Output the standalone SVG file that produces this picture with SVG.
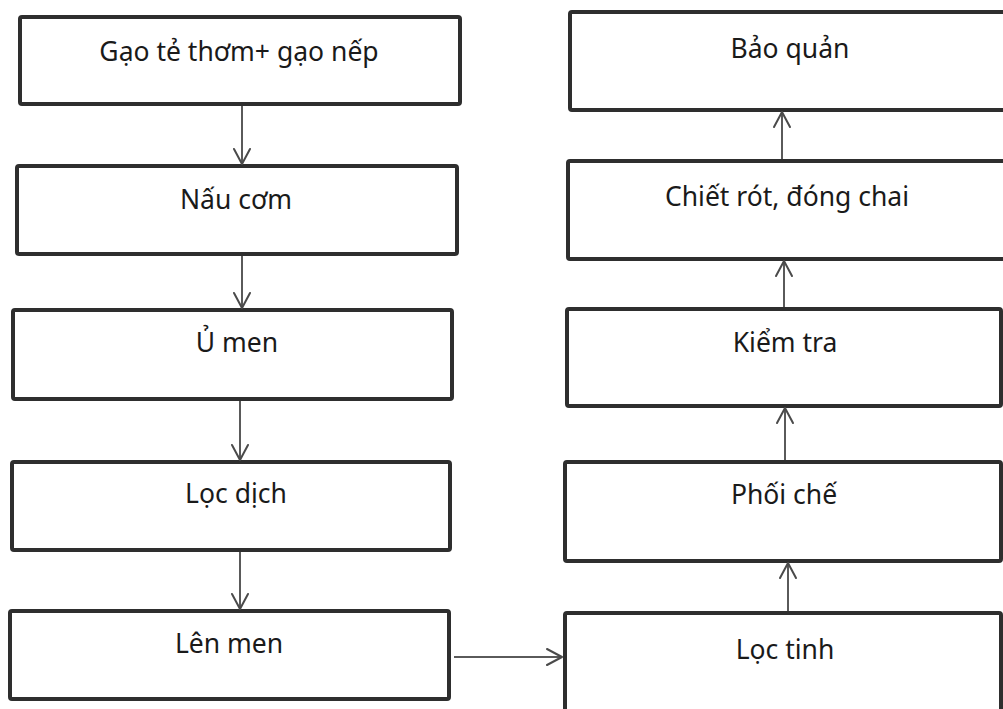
<svg xmlns="http://www.w3.org/2000/svg" width="1003" height="709" viewBox="0 0 1003 709">
  <style>
    .box { fill: #ffffff; stroke: #2e2e2e; stroke-width: 4; }
    .label { font-family: "Noto Sans", "Open Sans", "Liberation Sans", sans-serif; font-size: 26.5px; fill: #1a1a1a; text-anchor: middle; }
    .flow { stroke: #5a5a5a; stroke-width: 2; fill: none; }
    .head { stroke: #4a4a4a; stroke-width: 2; fill: none; stroke-linecap: round; stroke-linejoin: round; }
  </style>
  <rect width="1003" height="709" fill="#ffffff"/>

  <!-- left column: preparation and fermentation -->
  <g id="gao">
    <rect class="box" x="20" y="17" width="440" height="87" rx="2"/>
    <text class="label" x="239" y="61">Gạo tẻ thơm+ gạo nếp</text>
  </g>
  <g id="nau-com">
    <rect class="box" x="17" y="166" width="440" height="88" rx="2"/>
    <text class="label" x="236" y="209">Nấu cơm</text>
  </g>
  <g id="u-men">
    <rect class="box" x="13" y="310" width="439" height="89" rx="2"/>
    <text class="label" x="237" y="352">Ủ men</text>
  </g>
  <g id="loc-dich">
    <rect class="box" x="12" y="462" width="438" height="88" rx="2"/>
    <text class="label" x="236" y="503">Lọc dịch</text>
  </g>
  <g id="len-men">
    <rect class="box" x="10" y="611" width="439" height="88" rx="2"/>
    <text class="label" x="229" y="653">Lên men</text>
  </g>

  <!-- right column: finishing and storage -->
  <g id="bao-quan">
    <rect class="box" x="570" y="12" width="440" height="98" rx="2"/>
    <text class="label" x="790" y="58">Bảo quản</text>
  </g>
  <g id="chiet-rot">
    <rect class="box" x="568" y="161" width="442" height="98" rx="2"/>
    <text class="label" x="787" y="206">Chiết rót, đóng chai</text>
  </g>
  <g id="kiem-tra">
    <rect class="box" x="567" y="309" width="434" height="97" rx="2"/>
    <text class="label" x="785" y="352">Kiểm tra</text>
  </g>
  <g id="phoi-che">
    <rect class="box" x="565" y="462" width="436" height="99" rx="2"/>
    <text class="label" x="784" y="504">Phối chế</text>
  </g>
  <g id="loc-tinh">
    <rect class="box" x="565" y="613" width="436" height="110" rx="2"/>
    <text class="label" x="785" y="659">Lọc tinh</text>
  </g>

  <!-- connectors -->
  <g id="connectors">
    <line class="flow" x1="242" y1="106" x2="242" y2="164"/>
    <polyline class="head" points="234,149 242,164 250,149"/>

    <line class="flow" x1="242" y1="256" x2="242" y2="308"/>
    <polyline class="head" points="234,293 242,308 250,293"/>

    <line class="flow" x1="240" y1="401" x2="240" y2="460"/>
    <polyline class="head" points="232,445 240,460 248,445"/>

    <line class="flow" x1="240" y1="552" x2="240" y2="609"/>
    <polyline class="head" points="232,594 240,609 248,594"/>

    <line class="flow" x1="454" y1="657" x2="562" y2="657"/>
    <polyline class="head" points="547,649 562,657 547,665"/>

    <line class="flow" x1="788" y1="611" x2="788" y2="563"/>
    <polyline class="head" points="780,578 788,563 796,578"/>

    <line class="flow" x1="785" y1="460" x2="785" y2="408"/>
    <polyline class="head" points="777,423 785,408 793,423"/>

    <line class="flow" x1="784" y1="307" x2="784" y2="261"/>
    <polyline class="head" points="776,276 784,261 792,276"/>

    <line class="flow" x1="782" y1="159" x2="782" y2="112"/>
    <polyline class="head" points="774,127 782,112 790,127"/>
  </g>
</svg>
